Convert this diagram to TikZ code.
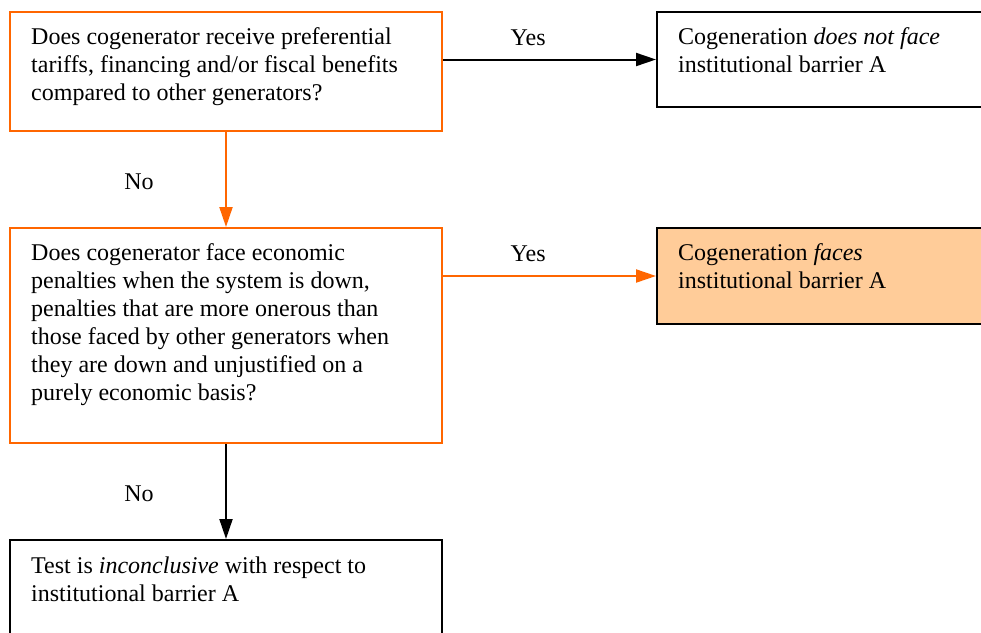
\documentclass[tikz,border=0pt]{standalone}
\usepackage{fontspec}
\setmainfont{Liberation Serif}
\usetikzlibrary{arrows.meta,calc}
\definecolor{borange}{HTML}{FF6600}
\definecolor{bfill}{HTML}{FFCC99}
\tikzset{
  box/.style={draw, line width=2pt, rectangle, anchor=north west, inner sep=0pt},
  qbox/.style={box, draw=borange},
  abox/.style={box, draw=black},
  txt/.style={anchor=base west, inner sep=0pt, align=left, text=black, font=\fontsize{24}{28}\selectfont},
  lbl/.style={anchor=base, inner sep=0pt, text=black, font=\fontsize{24}{28}\selectfont},
  arr/.style={line width=2pt, -{Triangle[length=20pt,width=13pt]}},
}
\begin{document}
\begin{tikzpicture}[x=1pt,y=-1pt]
\clip (0,0) rectangle (981,632);
\fill[white] (0,0) rectangle (981,632);
% boxes
\node[qbox, minimum width=432pt, minimum height=119pt] (b1) at (9,11) {};
\node[abox, minimum width=345pt, minimum height=95pt] (b2) at (656,11) {};
\node[qbox, minimum width=432pt, minimum height=215pt] (b3) at (9,227) {};
\node[abox, fill=bfill, minimum width=345pt, minimum height=96pt] (b4) at (656,227) {};
\node[abox, minimum width=432pt, minimum height=120pt] (b5) at (9,539) {};
% texts (anchored at the baseline of their last line)
\node[txt] (t1) at (31,100) {Does cogenerator receive preferential\\tariffs, financing and/or fiscal benefits\\compared to other generators?};
\node[txt] (t2) at (678,72) {Cogeneration \textit{does not face}\\institutional barrier A};
\node[txt] (t3) at (31,400) {Does cogenerator face economic\\penalties when the system is down,\\penalties that are more onerous than\\those faced by other generators when\\they are down and unjustified on a\\purely economic basis?};
\node[txt] (t4) at (678,288) {Cogeneration \textit{faces}\\institutional barrier A};
\node[txt] (t5) at (31,601) {Test is \textit{inconclusive} with respect to\\institutional barrier A};
% connectors
\draw[arr] (b1.east |- b2.west) -- (b2.west) node[lbl, pos=0.4, yshift=14pt] (y1) {Yes};
\draw[arr, borange] (b3.east |- b4.west) -- (b4.west) node[lbl, pos=0.4, yshift=15pt] (y2) {Yes};
\draw[arr, borange] (b1.south) -- (b3.north) node[lbl, pos=0.6, xshift=-87pt] (n1) {No};
\draw[arr] (b3.south) -- (b5.north) node[lbl, pos=0.6, xshift=-87pt] (n2) {No};
\end{tikzpicture}
\end{document}
